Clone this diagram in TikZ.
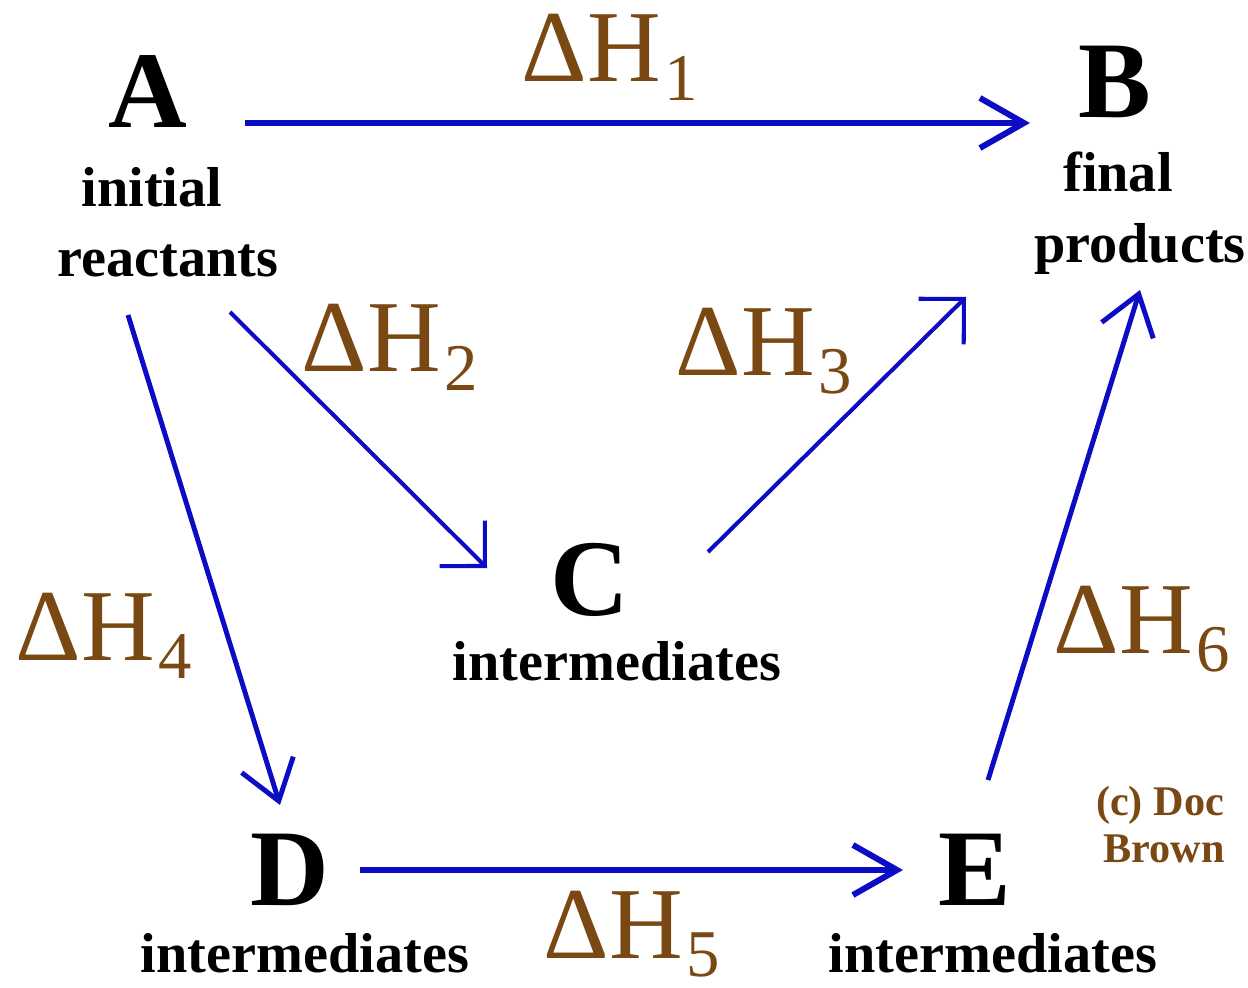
\documentclass[tikz,border=0pt]{standalone}
\usepackage{fontspec}
\setmainfont{Liberation Serif}
\usetikzlibrary{arrows.meta}
\definecolor{dhbrown}{RGB}{122,72,18}
\definecolor{arrowblue}{RGB}{12,12,196}
\newcommand{\dH}[1]{ΔH\kern0.04cm\raisebox{-0.18cm}{\fontsize{19}{19}\selectfont #1}}
\tikzset{
    letter/.style={anchor=base,inner sep=0pt,font=\fontsize{31}{31}\selectfont\bfseries},
    caption/.style={anchor=base,inner sep=0pt,font=\fontsize{16}{16}\selectfont\bfseries},
    dh/.style={anchor=base west,inner sep=0pt,text=dhbrown,font=\fontsize{29}{29}\selectfont},
    signature/.style={anchor=base,inner sep=0pt,text=dhbrown,font=\fontsize{12}{12}\selectfont\bfseries},
    arrow/.style={arrowblue,line width=1.7pt,-{Straight Barb[length=4.4mm,width=5mm]}},
    slant/.style={arrowblue,line width=1.15pt,-{Straight Barb[length=3.2mm,width=6.4mm]}},
    steep/.style={arrowblue,line width=1.4pt,-{Straight Barb[length=3.8mm,width=5.4mm]}}
}
\begin{document}
\begin{tikzpicture}[x=0.01cm,y=-0.01cm]
    \fill[white] (0,0) rectangle (1248,988);
    \useasboundingbox (0,0) rectangle (1248,988);
    % states
    \node[letter] (A) at (148,128) {A};
    \node[caption] (a1) at (152,207) {initial};
    \node[caption] (a2) at (168,277) {reactants};
    \node[letter] (B) at (1115,118) {B};
    \node[caption] (b1) at (1118,192) {final};
    \node[caption] (b2) at (1140,262) {products};
    \node[letter] (C) at (590,615) {C};
    \node[caption] (c1) at (617,680) {intermediates};
    \node[letter] (D) at (290,905) {D};
    \node[caption] (d1) at (305,972) {intermediates};
    \node[letter] (E) at (975,905) {E};
    \node[caption] (e1) at (993,972) {intermediates};
    % arrow ends
    \coordinate (p1) at (245,123); \coordinate (q1) at (1030,123);
    \coordinate (p2) at (230,312); \coordinate (q2) at (487,568);
    \coordinate (p3) at (708,552); \coordinate (q3) at (966,297);
    \coordinate (p4) at (128,315); \coordinate (q4) at (280,805);
    \coordinate (p5) at (360,870); \coordinate (q5) at (903,870);
    \coordinate (p6) at (988,780); \coordinate (q6) at (1140,290);
    \draw[arrow] (p1) -- (q1);
    \draw[slant] (p2) -- (q2);
    \draw[slant] (p3) -- (q3);
    \draw[steep] (p4) -- (q4);
    \draw[arrow] (p5) -- (q5);
    \draw[steep] (p6) -- (q6);
    % enthalpy labels
    \node[dh] (dh1) at (521,82) {\dH{1}};
    \node[dh] (dh2) at (301,372) {\dH{2}};
    \node[dh] (dh3) at (675,375) {\dH{3}};
    \node[dh] (dh4) at (15,660) {\dH{4}};
    \node[dh] (dh5) at (543,958) {\dH{5}};
    \node[dh] (dh6) at (1053,653) {\dH{6}};
    \node[signature] (s1) at (1160,815) {(c) Doc};
    \node[signature] (s2) at (1164,862) {Brown};
\end{tikzpicture}
\end{document}
